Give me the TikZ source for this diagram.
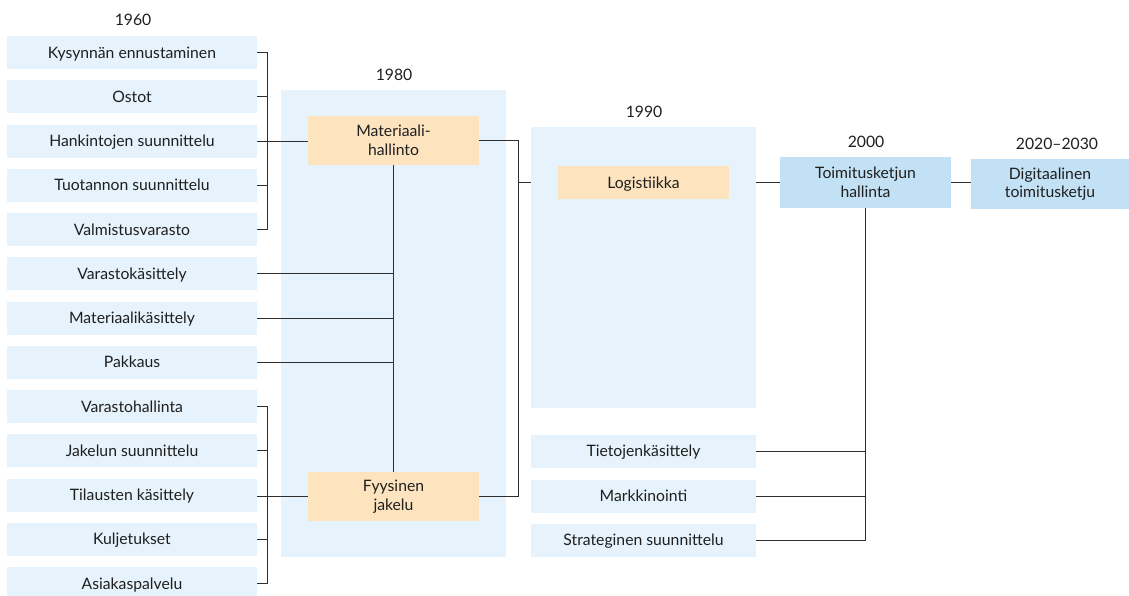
\documentclass[tikz,border=0pt]{standalone}
\usepackage{fontspec}
\setmainfont{Lato}
\definecolor{paleblue}{HTML}{E6F3FC}
\definecolor{peach}{HTML}{FDE4BF}
\definecolor{midblue}{HTML}{C3E1F5}
\definecolor{wire}{HTML}{2E2E2E}
\begin{document}
\begin{tikzpicture}[x=0.75pt,y=-0.75pt,
  txt/.style={font=\fontsize{11.8}{14}\selectfont, text=black!88, align=center},
  item/.style={txt, fill=paleblue, inner sep=0pt, text height=8.4pt, text depth=0pt,
               minimum width=187.5pt, minimum height=24.75pt},
  subitem/.style={item, minimum width=168.75pt},
  panel/.style={fill=paleblue, inner sep=0pt},
  stage/.style={txt, fill=peach, inner sep=0pt, minimum width=128.25pt},
  era/.style={txt, fill=midblue, inner sep=0pt},
  year/.style={txt, inner sep=0pt},
  wire/.style={draw=wire, line width=0.75pt}]
\useasboundingbox (0,0) rectangle (1129,596);
\clip (0,0) rectangle (1129,596);

% background panels for 1980 and 1990
\node[panel, minimum width=168.75pt, minimum height=350.25pt] (p80) at (393.5,323.5) {};
\node[panel, minimum width=168.75pt, minimum height=210.75pt] (p90) at (643.5,267.5) {};

% year headings
\node[year] (y60) at (133,20) {1960};
\node[year] (y80) at (394,75) {1980};
\node[year] (y90) at (644,112) {1990};
\node[year] (y00) at (866,142) {2000};
\node[year] (y20) at (1057,144) {2020–2030};

% 1960 functions
\node[item] (k1)  at (132,52.5)   {Kysynnän ennustaminen};
\node[item] (k2)  at (132,96.75)  {Ostot};
\node[item] (k3)  at (132,141)    {Hankintojen suunnittelu};
\node[item] (k4)  at (132,185.25) {Tuotannon suunnittelu};
\node[item] (k5)  at (132,229.5)  {Valmistusvarasto};
\node[item] (k6)  at (132,273.75) {Varastokäsittely};
\node[item] (k7)  at (132,318)    {Materiaalikäsittely};
\node[item] (k8)  at (132,362.25) {Pakkaus};
\node[item] (k9)  at (132,406.5)  {Varastohallinta};
\node[item] (k10) at (132,450.75) {Jakelun suunnittelu};
\node[item] (k11) at (132,495)    {Tilausten käsittely};
\node[item] (k12) at (132,539.25) {Kuljetukset};
\node[item] (k13) at (132,583.5)  {Asiakaspalvelu};

% 1980
\node[stage, minimum height=36.75pt] (mat) at (393.5,140.5) {Materiaali-\\hallinto};
\node[stage, minimum height=36.75pt] (fys) at (393.5,496.5) {Fyysinen\\jakelu};

% 1990
\node[stage, text height=8.4pt, text depth=0pt, minimum height=24.75pt] (log) at (643.5,182.5) {Logistiikka};
\node[subitem] (tie) at (643.5,451) {Tietojenkäsittely};
\node[subitem] (mar) at (643.5,496) {Markkinointi};
\node[subitem] (str) at (643.5,540) {Strateginen suunnittelu};

% 2000 and 2020-2030
\node[era, minimum width=128.25pt, minimum height=38.25pt] (toi) at (865.5,182.5) {Toimitusketjun\\hallinta};
\node[era, minimum width=118.5pt, minimum height=37.5pt] (dig) at (1050,184) {Digitaalinen\\toimitusketju};

% bracket columns
\coordinate (bl) at (267,0);
\coordinate (br) at (518.5,0);

% upper 1960 group into Materiaalihallinto
\draw[wire] (k1.east) -- (k1.east -| bl) -- (k5.east -| bl) -- (k5.east);
\foreach \k in {k2,k4} \draw[wire] (\k.east) -- (\k.east -| bl);
\draw[wire] (k3.east -| mat.west) -- (k3.east);

% lower 1960 group into Fyysinen jakelu
\draw[wire] (k9.east) -- (k9.east -| bl) -- (k13.east -| bl) -- (k13.east);
\foreach \k in {k10,k12} \draw[wire] (\k.east) -- (\k.east -| bl);
\draw[wire] (fys.west) -- (fys.west -| k11.east);

% shared functions joining both 1980 stages
\draw[wire] (mat.south) -- (fys.north);
\foreach \k in {k6,k7,k8} \draw[wire] (\k.east) -- (\k.east -| mat.south);

% 1980 into 1990
\draw[wire] (mat.east) -- (mat.east -| br) -- (fys.east -| br) -- (fys.east);
\draw[wire] (log.west -| br) -- (log.west -| p90.west);

% 1990 into 2000 and onward
\draw[wire] (log.east -| p90.east) -- (toi.west);
\draw[wire] (toi.east) -- (toi.east -| dig.west);
\draw[wire] (toi.south) -- (toi.south |- str.east) -- (str.east);
\foreach \k in {tie,mar} \draw[wire] (\k.east) -- (\k.east -| toi.south);
\end{tikzpicture}
\end{document}
